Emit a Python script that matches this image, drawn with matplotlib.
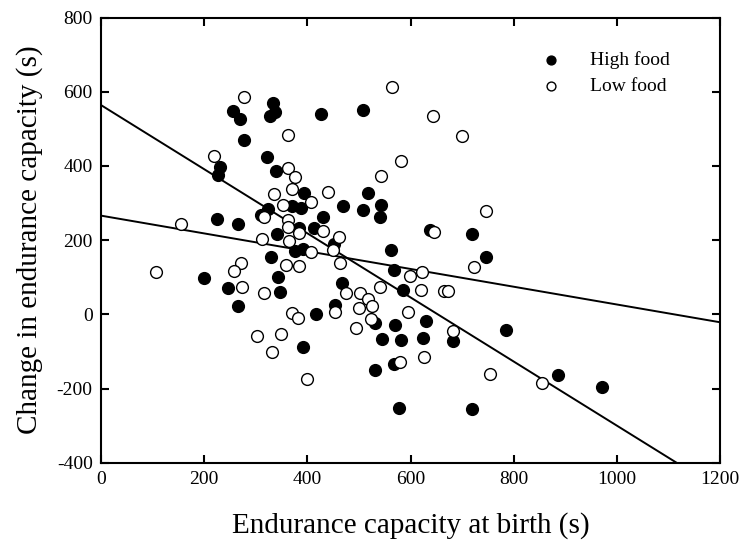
import matplotlib.pyplot as plt
import numpy as np

plt.rcParams['font.family'] = ['Liberation Serif', 'DejaVu Serif']
plt.rcParams['axes.unicode_minus'] = False

# endurance at birth (s) and change in endurance (s), high food group
high_birth = [256, 269, 333, 337, 328, 426, 277, 321, 339, 231, 227, 508,
              394, 370, 388, 323, 310, 224, 265, 383, 412, 431, 341, 376,
              392, 452, 330, 200, 344, 246, 347, 467, 266, 454, 417, 392,
              518, 470, 507, 542, 540, 637, 720, 746, 563, 568, 586, 531,
              570, 630, 545, 581, 625, 682, 785, 568, 532, 886, 972, 578, 720]
high_change = [549, 526, 570, 544, 534, 539, 471, 423, 386, 398, 375, 551,
               326, 293, 286, 284, 268, 256, 244, 232, 232, 261, 216, 171,
               175, 190, 155, 97, 101, 72, 59, 84, 22, 25, 1, -87,
               328, 293, 281, 295, 261, 227, 217, 154, 174, 119, 65, -23,
               -28, -19, -67, -68, -63, -71, -41, -133, -150, -164, -196, -252, -256]

# low food group
low_birth = [278, 363, 219, 363, 376, 564, 644, 699, 582, 542, 336, 370,
             441, 353, 407, 316, 362, 362, 431, 312, 365, 383, 408, 461,
             450, 464, 271, 258, 358, 384, 273, 316, 454, 106, 155, 370,
             381, 303, 349, 332, 399, 746, 646, 723, 599, 622, 541, 620,
             664, 672, 475, 502, 517, 525, 501, 524, 494, 596, 683, 580,
             626, 754, 854]
low_change = [585, 484, 426, 395, 370, 613, 534, 481, 413, 373, 323, 337,
              330, 296, 302, 262, 254, 236, 224, 203, 197, 218, 169, 209,
              174, 137, 137, 117, 133, 130, 74, 57, 7, 114, 243, 4,
              -11, -58, -52, -102, -174, 279, 222, 128, 104, 113, 74, 65,
              64, 64, 57, 58, 40, 22, 16, -12, -36, 5, -44, -129,
              -116, -161, -185]

# fitted lines: intercept, slope
high_fit = (564, -0.864)
low_fit = (266, -0.2395)

fig = plt.figure(figsize=(7.42, 5.44), dpi=100)
ax = fig.add_axes([0.1361, 0.1494, 0.8343, 0.8184])

xs = np.array([0, 1200])
ax.plot(xs, high_fit[0] + high_fit[1] * xs, color='black', lw=1.4, zorder=1)
ax.plot(xs, low_fit[0] + low_fit[1] * xs, color='black', lw=1.4, zorder=1)

ax.scatter(high_birth, high_change, s=72, facecolor='black', edgecolor='black',
           linewidth=1, zorder=3, label='High food')
ax.scatter(low_birth, low_change, s=72, facecolor='white', edgecolor='black',
           linewidth=1, zorder=3, label='Low food')

ax.set_xlim(0, 1200)
ax.set_ylim(-400, 800)
ax.set_xticks(np.arange(0, 1201, 200))
ax.set_yticks(np.arange(-400, 801, 200))
ax.tick_params(direction='in', length=6, width=1.5, top=True, right=True,
               labelsize=14, pad=6)
for sp in ax.spines.values():
    sp.set_linewidth(1.5)

ax.set_xlabel('Endurance capacity at birth (s)', fontsize=21, labelpad=17)
ax.set_ylabel('Change in endurance capacity (s)', fontsize=21, labelpad=10)

ax.legend(loc='upper left', frameon=False, fontsize=14, markerscale=0.75,
          handletextpad=1.0, borderpad=0, labelspacing=0.45,
          bbox_to_anchor=(0.680, 0.947))

fig.savefig('out.png', dpi=100)
